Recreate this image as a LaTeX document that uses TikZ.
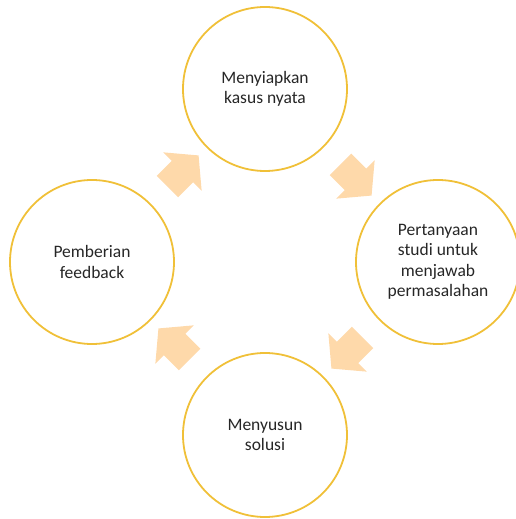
\documentclass[tikz,border=0pt]{standalone}
\usepackage{fontspec}
\setmainfont{Carlito}
\usetikzlibrary{calc,shapes.arrows}
\definecolor{ringgold}{RGB}{240,192,56}
\definecolor{arrowpeach}{RGB}{254,217,170}
\tikzset{
  stepcircle/.style={circle, draw=ringgold, line width=1.8pt, minimum size=164pt,
    inner sep=0pt, align=center, text=black!85, font=\fontsize{17.5}{20.5}\selectfont},
  flowarrow/.style={single arrow, fill=arrowpeach, draw=none, minimum height=44pt,
    inner xsep=0pt, inner ysep=15pt, single arrow head extend=12pt,
    single arrow tip angle=100, sloped, allow upside down}
}

\begin{document}
\begin{tikzpicture}[x=1pt,y=1pt]
\useasboundingbox (0,0) rectangle (515,519);
\coordinate (mid) at (265,257);

% the four steps, clockwise from the top
\foreach \ang/\name/\txt in {90/top/{Menyiapkan\\kasus nyata},
  0/right/{Pertanyaan\\studi untuk\\menjawab\\permasalahan},
  -90/bottom/{Menyusun\\solusi},
  180/left/{Pemberian\\feedback}}
{
\node[stepcircle] (\name) at ($(mid)+(\ang:173)$) {\txt};
}

% arrows between the steps
\foreach \from/\to in {left/top, top/right, right/bottom, bottom/left}
{
\path (\from) -- node[flowarrow] (arr-\from) {} (\to);
}
\end{tikzpicture}
\end{document}
